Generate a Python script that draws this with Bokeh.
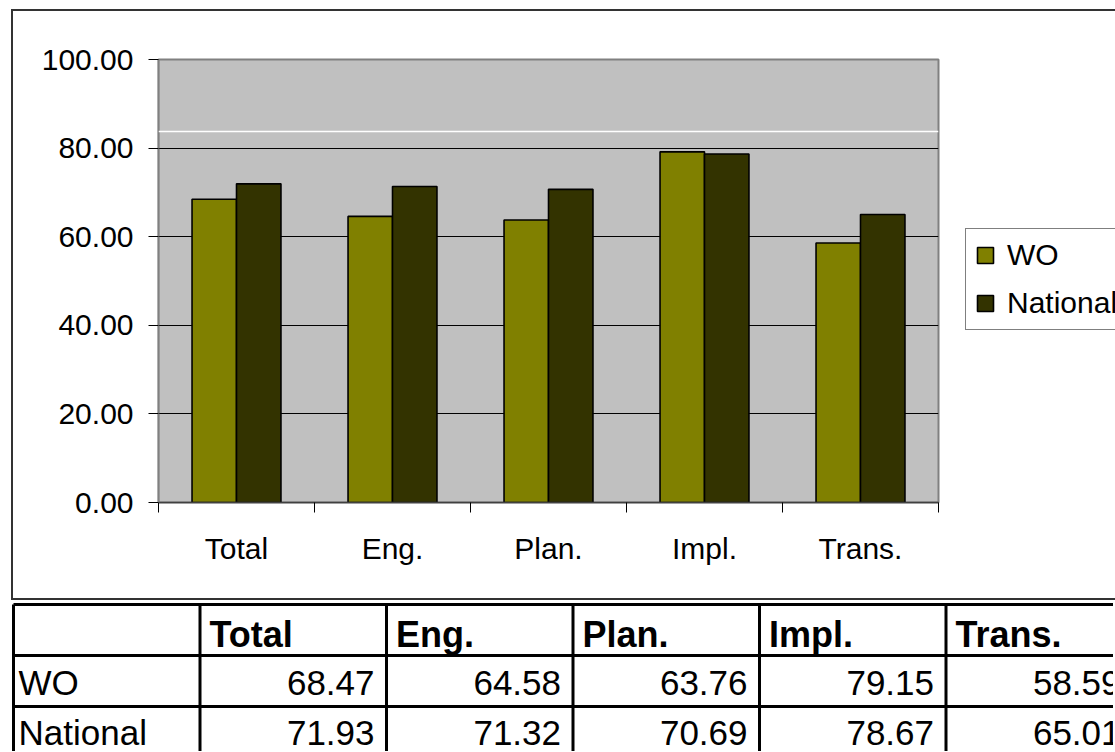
from bokeh.plotting import figure
from bokeh.models import (Range1d, FixedTicker, NumeralTickFormatter, Span, Legend,
                          LegendItem)
from bokeh.layouts import column
from bokeh.core.properties import value
from bokeh.embed import file_html
from bokeh.resources import INLINE
import numpy as np

# ---- data ----
categories = ["Total", "Eng.", "Plan.", "Impl.", "Trans."]
wo = [68.47, 64.58, 63.76, 79.15, 58.59]
national = [71.93, 71.32, 70.69, 78.67, 65.01]
series_names = ["WO", "National"]
y_ticks = [0, 20, 40, 60, 80, 100]
white_line_level = 83.75

FONT = "Liberation Sans"
WO_COLOR = "#808000"
NAT_COLOR = "#333300"

W = 1113
H_CHART = 600
H_TABLE = 151
FRAME_L, FRAME_T, FRAME_R, FRAME_B = 158, 59, 938, 502

# ---- chart ----
p = figure(width=W, height=H_CHART, frame_width=FRAME_R - FRAME_L, frame_height=FRAME_B - FRAME_T,
           output_backend="svg", toolbar_location=None,
           x_range=Range1d(0, len(categories)), y_range=Range1d(0, 100),
           min_border_left=FRAME_L, min_border_right=W - FRAME_R, min_border_top=FRAME_T,
           min_border_bottom=H_CHART - FRAME_B)
p.frame_align = False
p.background_fill_color = "#C0C0C0"
p.border_fill_color = None
p.outline_line_color = "#808080"
p.outline_line_width = 2
p.styles = {"box-shadow": "inset 11px 9px 0 0 #ffffff, inset 13px 11px 0 0 #333333, "
                          "inset 0 -2px 0 0 #333333"}

idx = np.arange(len(categories)) + 0.5
bw = 0.285
off = 0.1425
r_wo = p.vbar(x=idx - off, top=wo, width=bw, bottom=0, fill_color=WO_COLOR,
              line_color="black", line_width=1.6)
r_nat = p.vbar(x=idx + off, top=national, width=bw, bottom=0, fill_color=NAT_COLOR,
               line_color="black", line_width=1.6)

# axes
p.xaxis.ticker = FixedTicker(ticks=list(idx), minor_ticks=list(range(len(categories) + 1)))
p.xaxis.major_label_overrides = {float(t): c for t, c in zip(idx, categories)}
p.xaxis.major_tick_line_color = None
p.xaxis.major_tick_out = 0
p.xaxis.major_tick_in = 0
p.xaxis.minor_tick_out = 10
p.xaxis.minor_tick_in = 0
p.xaxis.minor_tick_line_color = "black"
p.xaxis.axis_line_color = "#404040"
p.xaxis.axis_line_width = 1.5
p.xaxis.major_label_text_font = FONT
p.xaxis.major_label_text_font_size = "30px"
p.xaxis.major_label_text_color = "black"
p.xaxis.major_label_standoff = 19

p.yaxis.ticker = FixedTicker(ticks=y_ticks, minor_ticks=[])
p.yaxis.formatter = NumeralTickFormatter(format="0.00")
p.yaxis.major_tick_out = 10
p.yaxis.major_tick_in = 0
p.yaxis.major_tick_line_color = "black"
p.yaxis.axis_line_color = "#808080"
p.yaxis.axis_line_width = 1.5
p.yaxis.major_label_text_font = FONT
p.yaxis.major_label_text_font_size = "30px"
p.yaxis.major_label_text_color = "black"
p.yaxis.major_label_standoff = 15

p.xgrid.grid_line_color = None
p.ygrid.ticker = FixedTicker(ticks=y_ticks[1:-1])
p.ygrid.grid_line_color = "black"
p.ygrid.grid_line_width = 1

p.add_layout(Span(location=white_line_level, dimension="width", line_color="white", line_width=1.5))

legend = Legend(items=[LegendItem(label=series_names[0], renderers=[r_wo]),
                       LegendItem(label=series_names[1], renderers=[r_nat])],
                location=(27, 172))
legend.label_text_font = FONT
legend.label_text_font_size = "30px"
legend.label_text_color = "black"
legend.glyph_width = 20
legend.glyph_height = 20
legend.padding = 9
legend.spacing = 14
legend.label_standoff = 12
legend.margin = 0
legend.border_line_color = "black"
legend.border_line_width = 1
legend.background_fill_color = "white"
legend.background_fill_alpha = 1
p.add_layout(legend, "right")

# ---- table ----
t = figure(width=W, height=H_TABLE, output_backend="svg", toolbar_location=None,
           x_range=Range1d(0, W), y_range=Range1d(H_TABLE, 0),
           min_border=0, min_border_left=0, min_border_right=0,
           min_border_top=0, min_border_bottom=0)
t.frame_align = False
t.axis.visible = False
t.grid.visible = False
t.outline_line_color = None
t.background_fill_color = "white"
t.border_fill_color = "white"

col_w = 186.5
x0 = 13
n_cols = len(categories) + 1
col_x = [x0 + i * col_w for i in range(n_cols + 1)]
row_h = 51
y0 = 4
row_y = [y0 + i * row_h for i in range(4)]

t.segment(x0=col_x, y0=[y0] * len(col_x), x1=col_x, y1=[row_y[-1]] * len(col_x),
          line_color="black", line_width=3)
t.segment(x0=[x0] * len(row_y), y0=row_y, x1=[col_x[-1]] * len(row_y), y1=row_y,
          line_color="black", line_width=3)

# header
t.text(x=[col_x[i + 1] + 9.5 for i in range(len(categories))], y=[row_y[0] + 30] * len(categories),
       text=categories, text_font=value(FONT), text_font_style="bold",
       text_font_size="36px", text_baseline="alphabetic", text_align="left", text_color="black")
# row labels
t.text(x=[x0 + 5] * 2, y=[row_y[1] + 27, row_y[2] + 26], text=series_names,
       text_font=value(FONT), text_font_size="35px", text_baseline="alphabetic",
       text_align="left", text_color="black")
# values
for r, vals in enumerate([wo, national]):
    t.text(x=[col_x[i + 2] - 12 for i in range(len(vals))], y=[row_y[r + 1] + 27 - r] * len(vals),
           text=[f"{v:.2f}" for v in vals], text_font=value(FONT), text_font_size="35px",
           text_baseline="alphabetic", text_align="right", text_color="black")

layout = column(p, t, spacing=0)
open("out.html", "w").write(file_html(layout, INLINE))
